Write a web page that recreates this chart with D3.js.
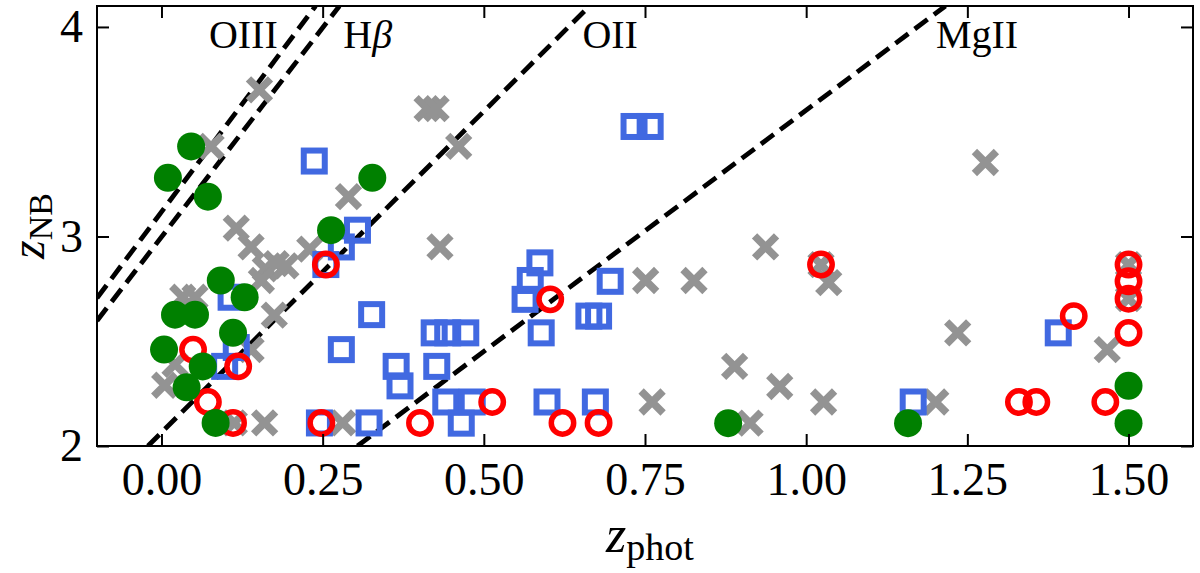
<!DOCTYPE html>
<html>
<head>
    <title>z_NB vs z_phot</title>
    <style>
        body { margin: 0; background: #fff; }
        svg text { font-family: "Liberation Serif", "Times New Roman", serif; fill: #000; }
        .frame { fill: none; stroke: #000; stroke-width: 2; }
        .tick line { stroke: #000; stroke-width: 2; }
    </style>
</head>
<body>
    <div id="chart"></div>
    <script src="https://d3js.org/d3.v7.min.js"></script>
    <script>
        // values (z_phot, z_NB)
        const grayX = [0.152, 0.077, 0.412, 0.426, 0.461, 0.290, 0.116, 0.139, 0.161, 0.178,
                       0.193, 0.155, 0.230, 0.432, 0.175, 0.033, 0.052, 0.139, 0.021, 0.005,
                       0.113, 0.160, 0.281, 0.751, 0.826, 0.937, 1.023, 1.035, 0.761, 0.889,
                       0.959, 1.027, 0.913, 1.278, 1.235, 1.467, 1.201, 1.500, 1.500];
        const grayY = [3.70, 3.43, 3.61, 3.61, 3.43, 3.19, 3.04, 2.95, 2.845, 2.87,
                       2.86, 2.79, 2.94, 2.95, 2.625, 2.71, 2.71, 2.46, 2.39, 2.29,
                       2.11, 2.11, 2.11, 2.79, 2.79, 2.95, 2.866, 2.78, 2.21, 2.38,
                       2.284, 2.21, 2.109, 3.353, 2.54, 2.46, 2.21, 2.866, 2.703];

        const blueX = [0.237, 0.304, 0.279, 0.255, 0.108, 0.116, 0.098, 0.279, 0.322, 0.245,
                       0.326, 0.733, 0.758, 0.587, 0.572, 0.564, 0.696, 0.663, 0.678, 0.589,
                       0.423, 0.444, 0.472, 0.364, 0.370, 0.427, 0.441, 0.482, 0.465, 0.598,
                       0.673, 1.391, 1.166];
        const blueY = [3.36, 3.03, 2.95, 2.866, 2.71, 2.47, 2.38, 2.46, 2.11, 2.11,
                       2.627, 3.525, 3.525, 2.874, 2.79, 2.70, 2.786, 2.62, 2.62, 2.54,
                       2.54, 2.54, 2.54, 2.38, 2.287, 2.38, 2.21, 2.21, 2.109, 2.21,
                       2.21, 2.54, 2.21];

        const redX = [0.255, 0.049, 0.119, 0.072, 0.111, 0.248, 0.401, 0.513, 0.603, 0.622,
                      0.678, 1.023, 1.330, 1.357, 1.415, 1.500, 1.500, 1.500, 1.500, 1.464];
        const redY = [2.866, 2.46, 2.38, 2.21, 2.11, 2.11, 2.11, 2.21, 2.70, 2.11,
                      2.11, 2.866, 2.21, 2.21, 2.62, 2.866, 2.786, 2.703, 2.54, 2.21];

        const greenX = [0.046, 0.010, 0.072, 0.327, 0.263, 0.092, 0.129, 0.021, 0.052, 0.111,
                        0.004, 0.064, 0.039, 0.084, 0.879, 1.158, 1.500, 1.500];
        const greenY = [3.43, 3.28, 3.19, 3.28, 3.03, 2.79, 2.71, 2.627, 2.627, 2.54,
                        2.46, 2.38, 2.28, 2.11, 2.109, 2.109, 2.287, 2.109];

        // emission-line loci: two points on each dashed line
        const lineNames = ["OIII", "Hβ", "OII", "MgII"];
        const lineX0 = [-0.10, -0.10, -0.021, 0.304];
        const lineY0 = [2.706, 2.598, 2.00, 2.00];
        const lineX1 = [0.239, 0.276, 0.664, 1.216];
        const lineY1 = [4.10, 4.10, 4.10, 4.10];
        const labelX = [0.127, 0.320, 0.696, 1.265];
        const labelY = 3.90;

        const xTicks = [0, 0.25, 0.5, 0.75, 1.0, 1.25, 1.5];
        const yTicks = [2, 3, 4];

        // layout
        const W = 1200, H = 573;
        const margin = { top: 6, right: 7, bottom: 127, left: 97 };
        const width = W - margin.left - margin.right;
        const height = H - margin.top - margin.bottom;

        const svg = d3.select("#chart").append("svg")
            .attr("width", W)
            .attr("height", H);

        const g = svg.append("g")
            .attr("transform", "translate(" + margin.left + "," + margin.top + ")");

        const x = d3.scaleLinear().domain([-0.1, 1.6]).range([0, width]);
        const y = d3.scaleLinear().domain([2, 4.1]).range([height, 0]);

        g.append("clipPath").attr("id", "clip")
            .append("rect").attr("width", width).attr("height", height);

        const plot = g.append("g").attr("clip-path", "url(#clip)");

        // dashed lines
        plot.selectAll(".eline").data(lineNames).enter().append("line")
            .attr("class", "eline")
            .attr("x1", (d, i) => x(lineX0[i]))
            .attr("y1", (d, i) => y(lineY0[i]))
            .attr("x2", (d, i) => x(lineX1[i]))
            .attr("y2", (d, i) => y(lineY1[i]))
            .attr("stroke", "#000")
            .attr("stroke-width", 4.8)
            .attr("stroke-dasharray", "16,8");

        // gray crosses
        plot.selectAll(".cross").data(grayX).enter().append("path")
            .attr("class", "cross")
            .attr("transform", (d, i) => "translate(" + x(d) + "," + y(grayY[i]) + ")")
            .attr("d", "M-11,-11L11,11M-11,11L11,-11")
            .attr("stroke", "#939393")
            .attr("stroke-width", 7.5)
            .attr("fill", "none");

        // blue open squares
        plot.selectAll(".sq").data(blueX).enter().append("rect")
            .attr("class", "sq")
            .attr("x", d => x(d) - 10.5)
            .attr("y", (d, i) => y(blueY[i]) - 10.5)
            .attr("width", 21)
            .attr("height", 21)
            .attr("fill", "none")
            .attr("stroke", "royalblue")
            .attr("stroke-width", 6);

        // red open circles
        plot.selectAll(".ring").data(redX).enter().append("circle")
            .attr("class", "ring")
            .attr("cx", d => x(d))
            .attr("cy", (d, i) => y(redY[i]))
            .attr("r", 11.2)
            .attr("fill", "none")
            .attr("stroke", "red")
            .attr("stroke-width", 5.5);

        // green filled circles
        plot.selectAll(".dot").data(greenX).enter().append("circle")
            .attr("class", "dot")
            .attr("cx", d => x(d))
            .attr("cy", (d, i) => y(greenY[i]))
            .attr("r", 14)
            .attr("fill", "green");

        // line labels
        const lab = g.selectAll(".lab").data(lineNames).enter().append("text")
            .attr("class", "lab")
            .attr("x", (d, i) => x(labelX[i]))
            .attr("y", y(labelY))
            .attr("text-anchor", "middle")
            .style("font-size", "40px");
        lab.each(function(d) {
            const t = d3.select(this);
            if (d === "Hβ") {
                t.append("tspan").text("H");
                t.append("tspan").style("font-style", "italic").text("β");
            } else {
                t.text(d);
            }
        });

        // axes with inward ticks on all four sides
        const fmtX = d3.format(".2f");
        g.append("g").attr("transform", "translate(0," + height + ")")
            .call(d3.axisBottom(x).tickValues(xTicks).tickSizeInner(-12).tickSizeOuter(0).tickPadding(16).tickFormat(fmtX))
            .call(a => a.select(".domain").remove())
            .call(a => a.selectAll("text").style("font-size", "46px").attr("dy", "0.71em"));
        g.append("g")
            .call(d3.axisTop(x).tickValues(xTicks).tickSizeInner(-12).tickSizeOuter(0).tickFormat(""))
            .call(a => a.select(".domain").remove());
        g.append("g")
            .call(d3.axisLeft(y).tickValues(yTicks).tickSizeInner(-12).tickSizeOuter(0).tickPadding(14).tickFormat(d3.format("d")))
            .call(a => a.select(".domain").remove())
            .call(a => a.selectAll("text").style("font-size", "46px"));
        g.append("g").attr("transform", "translate(" + width + ",0)")
            .call(d3.axisRight(y).tickValues(yTicks).tickSizeInner(-12).tickSizeOuter(0).tickFormat(""))
            .call(a => a.select(".domain").remove());

        g.append("rect").attr("class", "frame")
            .attr("width", width).attr("height", height);

        // axis titles
        const xl = svg.append("text")
            .attr("x", 650).attr("y", 552)
            .attr("text-anchor", "middle");
        xl.append("tspan").style("font-style", "italic").style("font-size", "52px").text("z");
        xl.append("tspan").attr("dy", 8).style("font-size", "38px").text("phot");

        const yl = svg.append("text")
            .attr("transform", "translate(44," + (margin.top + height / 2) + ") rotate(-90)")
            .attr("text-anchor", "middle");
        yl.append("tspan").style("font-style", "italic").style("font-size", "48px").text("z");
        yl.append("tspan").attr("dy", 8).style("font-size", "34px").text("NB");
    </script>
</body>
</html>
